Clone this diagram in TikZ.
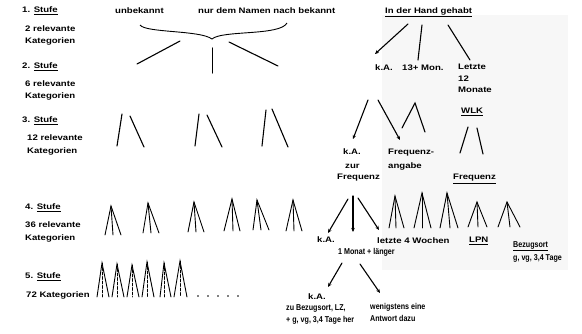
\documentclass[tikz,border=0pt]{standalone}
\usepackage{fontspec}
\setmainfont{Liberation Sans}
\newfontfamily\lblfont{Liberation Sans}[FakeStretch=1.2]
\newfontfamily\narrowfont{Liberation Sans}[FakeStretch=0.84]
\usetikzlibrary{arrows.meta}
\begin{document}
\begin{tikzpicture}[x=1pt,y=-1pt,
 lbl/.style={anchor=west,inner sep=0pt,font=\lblfont\bfseries\fontsize{8}{9}\selectfont},
 lbln/.style={anchor=west,inner sep=0pt,font=\narrowfont\bfseries\fontsize{8.5}{9}\selectfont},
 stroke/.style={line width=1.1pt,line cap=round},
 thin stroke/.style={line width=0.9pt,line cap=round},
 arr/.style={stroke,-{Stealth[length=4pt,width=3.5pt]}},
]
\useasboundingbox (0,0) rectangle (582,333);
\fill[black!3] (382,15) rectangle (568,270);
% left column
\node[lbl] (s1) at (22,11) {1. \underline{Stufe}};
\node[lbl] (s1a) at (25,29) {2 relevante};
\node[lbl] (s1b) at (25,41) {Kategorien};
\node[lbl] (s2) at (22,67) {2. \underline{Stufe}};
\node[lbl] (s2a) at (25,84) {6 relevante};
\node[lbl] (s2b) at (25,96) {Kategorien};
\node[lbl] (s3) at (22,121) {3. \underline{Stufe}};
\node[lbl] (s3a) at (27,138) {12 relevante};
\node[lbl] (s3b) at (27,151) {Kategorien};
\node[lbl] (s4) at (25,208) {4. \underline{Stufe}};
\node[lbl] (s4a) at (25,225) {36 relevante};
\node[lbl] (s4b) at (25,238) {Kategorien};
\node[lbl] (s5) at (25,277) {5. \underline{Stufe}};
\node[lbl] (s5a) at (26,295) {72 Kategorien};
% top
\node[lbl] (unb) at (115,11) {unbekannt};
\node[lbl] (nur) at (198,11) {nur dem Namen nach bekannt};
\node[lbl] (hand) at (385,12) {\underline{In der Hand gehabt}};
% brace
\draw[line width=0.9pt] (140,25) .. controls (146,33) and (200,30) .. (212,39)
  .. controls (222,30) and (280,36) .. (287,23);
\draw[stroke] (180,41) -- (137,64);
\draw[stroke] (212.3,48) -- (212.3,73);
\draw[stroke] (229,42) -- (278,66);
% level 2 right
\node[lbl] (ka1) at (375,68) {k.A.};
\node[lbl] (mon) at (402,68) {13+ Mon.};
\node[lbl] (le1) at (458,67) {Letzte};
\node[lbl] (le2) at (458,79) {12};
\node[lbl] (le3) at (458,90) {Monate};
\draw[arr] (408,24) -- (375,54);
\draw[stroke] (422,25) -- (418,60);
\draw[stroke] (448,25) -- (470,60);
% level 3 left
\draw[stroke] (122,114) -- (117,146);
\draw[stroke] (130,116) -- (144,147);
\draw[stroke] (199,114) -- (195,146);
\draw[stroke] (207,115) -- (222,147);
\draw[stroke] (266,110) -- (262,146);
\draw[stroke] (272,109) -- (288,147);
% level 3 right
\draw[arr] (368,100) -- (353,139);
\draw[arr] (378,100) -- (400,140);
\draw[stroke] (402,128) -- (415,103) -- (425,132);
\node[lbl] (wlk) at (461,112) {\underline{WLK}};
\draw[stroke] (468,127) -- (460,153);
\draw[stroke] (477,128) -- (483,154);
\node[lbl] (ka2) at (343,152) {k.A.};
\node[lbl] (zur) at (345,166) {zur};
\node[lbl] (frq) at (337,178) {Frequenz};
\node[lbl] (fa1) at (388,153) {Frequenz-};
\node[lbl] (fa2) at (388,166) {angabe};
\node[lbl] (frq2) at (453,179) {\underline{Frequenz}};
% level 4
\foreach \ax/\ay/\l/\m/\r/\b in {
 111/206/105/113/121/235, 148/203/143/151/159/233, 194/202/188/196/204/232,
 232/199/224/233/240/231, 257/200/253/261/269/230, 293/200/286/294/302/231,
 395/196/389/396/404/228, 422/193/414/422/431/228, 447/193/440/450/458/228,
 477/202/468/478/487/227, 507/202/498/510/520/227}{
 \draw[thin stroke] (\l,\b) -- (\ax,\ay) -- (\r,\b);
 \draw[thin stroke] (\ax,\ay) -- (\m,\b);
}
\draw[arr] (348,199) -- (328,233);
\draw[arr] (353,196) -- (353,232);
\draw[arr] (358,198) -- (379,230);
\node[lbl] (ka3) at (317,240) {k.A.};
\node[lbl] (l4w) at (377,241) {letzte 4 Wochen};
\node[lbln] (mon1) at (338,252) {1 Monat + länger};
\node[lbl] (lpn) at (469,241) {\underline{LPN}};
\node[lbln] (bez) at (513,246) {\underline{Bezugsort}};
\node[lbln] (gvg) at (513,258) {g, vg, 3,4 Tage};
% level 5
\foreach \ax/\ay/\l/\r/\b in {102/263/97/109/297, 117/264/112/124/297,
 132/265/127/139/297, 147/262/142/154/297, 164/263/160/171/297, 180/261/174/187/297}{
 \draw[thin stroke] (\l,\b) -- (\ax,\ay) -- (\r,\b);
 \draw[thin stroke,dashed,dash pattern=on 3pt off 1.5pt] (\ax,\ay) -- (\ax,\b);
}
\foreach \x in {198,208,218,228,238} \fill (\x,296) circle (0.8);
\draw[arr] (342,263) -- (328,287);
\draw[arr] (360,264) -- (380,293);
\node[lbl] (ka4) at (308,297) {k.A.};
\node[lbln] (zub) at (286,308) {zu Bezugsort, LZ,};
\node[lbln] (gvh) at (286,320) {+ g, vg, 3,4 Tage her};
\node[lbln] (wen) at (370,307) {wenigstens eine};
\node[lbln] (ant) at (370,318) {Antwort dazu};
\end{tikzpicture}
\end{document}
